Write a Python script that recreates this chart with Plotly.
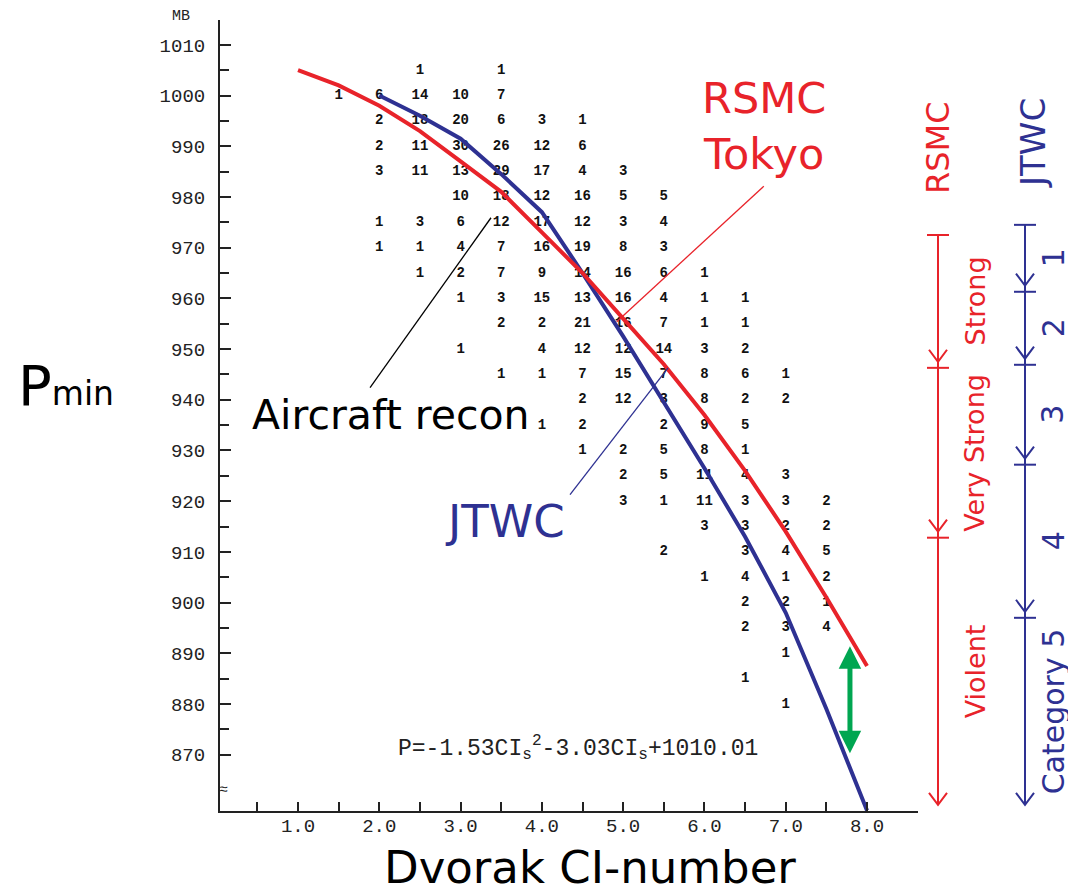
import plotly.graph_objects as go

# ---------------- data ----------------
ci_rsmc = [1.0, 1.5, 2.0, 2.5, 3.0, 3.5, 4.0, 4.5, 5.0, 5.5, 6.0, 6.5, 7.0, 7.5, 8.0]
p_rsmc = [1005, 1002, 998, 993, 987, 981, 973, 965, 956, 947, 937, 926, 914, 901, 887.5]

ci_jtwc = [2.0, 2.5, 3.0, 3.5, 4.0, 4.5, 5.0, 5.5, 6.0, 6.5, 7.0, 7.5, 8.0]
p_jtwc = [1000, 996, 991.5, 984.5, 977, 965, 952.5, 939.5, 926.5, 913, 898, 879, 859]

# aircraft recon counts: CI column -> {pressure: count}
recon_counts = {
    1.5: {1000: 1},
    2.0: {1000: 6, 995: 2, 990: 2, 985: 3, 975: 1, 970: 1},
    2.5: {1005: 1, 1000: 14, 995: 18, 990: 11, 985: 11, 975: 3, 970: 1, 965: 1},
    3.0: {1000: 10, 995: 20, 990: 30, 985: 13, 980: 10, 975: 6, 970: 4, 965: 2, 960: 1, 950: 1},
    3.5: {1005: 1, 1000: 7, 995: 6, 990: 26, 985: 29, 980: 18, 975: 12, 970: 7, 965: 7,
          960: 3, 955: 2, 945: 1},
    4.0: {995: 3, 990: 12, 985: 17, 980: 12, 975: 17, 970: 16, 965: 9, 960: 15, 955: 2,
          950: 4, 945: 1, 935: 1},
    4.5: {995: 1, 990: 6, 985: 4, 980: 16, 975: 12, 970: 19, 965: 14, 960: 13, 955: 21,
          950: 12, 945: 7, 940: 2, 935: 2, 930: 1},
    5.0: {985: 3, 980: 5, 975: 3, 970: 8, 965: 16, 960: 16, 955: 16, 950: 12, 945: 15,
          940: 12, 930: 2, 925: 2, 920: 3},
    5.5: {980: 5, 975: 4, 970: 3, 965: 6, 960: 4, 955: 7, 950: 14, 945: 7, 940: 3,
          935: 2, 930: 5, 925: 5, 920: 1, 910: 2},
    6.0: {965: 1, 960: 1, 955: 1, 950: 3, 945: 8, 940: 8, 935: 9, 930: 8, 925: 11,
          920: 11, 915: 3, 905: 1},
    6.5: {960: 1, 955: 1, 950: 2, 945: 6, 940: 2, 935: 5, 930: 1, 925: 4, 920: 3,
          915: 3, 910: 3, 905: 4, 900: 2, 895: 2, 885: 1},
    7.0: {945: 1, 940: 2, 925: 3, 920: 3, 915: 2, 910: 4, 905: 1, 900: 2, 895: 3,
          890: 1, 880: 1},
    7.5: {920: 2, 915: 2, 910: 5, 905: 2, 900: 1, 895: 4},
}

# difference arrow (RSMC vs JTWC near CI 7.8)
diff_ci = 7.79
diff_top = 891.4
diff_bottom = 870.0

# intensity scale boundaries (hPa)
rsmc_bounds = [972.5, 946.3, 912.8, 860.1]
rsmc_labels = ["Strong", "Very Strong", "Violent"]
jtwc_bounds = [974.5, 961.3, 946.9, 927.2, 897.0, 860.1]
jtwc_labels = ["1", "2", "3", "4", "Category 5"]

y_major = list(range(870, 1011, 10))
y_minor = list(range(875, 1006, 10))
x_major = [1.0, 2.0, 3.0, 4.0, 5.0, 6.0, 7.0, 8.0]
x_minor = [0.5, 1.5, 2.5, 3.5, 4.5, 5.5, 6.5, 7.5]
x_ticktext = [f"{v:.1f}" for v in x_major]

RED = "#e8232a"
BLUE = "#2e3192"
GREEN = "#00a651"
SANS = "DejaVu Sans"
MONO = "Liberation Mono"

g_ci, g_p, g_n = [], [], []
for c, col in recon_counts.items():
    for p, n in col.items():
        g_ci.append(c)
        g_p.append(p)
        g_n.append(str(n))

fig = go.Figure()

fig.add_trace(go.Scatter(
    x=g_ci, y=g_p, text=g_n, mode="text",
    textfont=dict(family=MONO, size=14, color="#111111", weight="bold"),
    hoverinfo="skip", cliponaxis=False))

fig.add_trace(go.Scatter(
    x=ci_jtwc, y=p_jtwc, mode="lines",
    line=dict(color=BLUE, width=4), hoverinfo="skip", cliponaxis=False))

fig.add_trace(go.Scatter(
    x=ci_rsmc, y=p_rsmc, mode="lines",
    line=dict(color=RED, width=4), hoverinfo="skip", cliponaxis=False))

# ---------------- layout geometry ----------------
# page body has an 8px margin: figure origin sits at (8, 8) on screen
OFF = 8
W, H = 1076 - OFF, 894 - OFF
PLOT_L, PLOT_R, PLOT_T, PLOT_B = 220, 918, 20, 811   # screen px
L, T = PLOT_L - OFF, PLOT_T - OFF
R = W - (PLOT_R - OFF)
B = H - (PLOT_B - OFF)
PW, PH = PLOT_R - PLOT_L, PLOT_B - PLOT_T

def px2paper_x(px):
    return (px - PLOT_L) / PW

def px2paper_y(py):
    return (PLOT_B - py) / PH

shapes = []
annotations = []

def note(**kw):
    kw.setdefault("showarrow", False)
    kw.setdefault("xanchor", "center")
    kw.setdefault("yanchor", "middle")
    annotations.append(kw)

# leader lines
shapes.append(dict(type="line", xref="x", yref="y", x0=6.73, y0=982.1, x1=4.92, y1=955.4,
                   line=dict(color=RED, width=1.3)))
shapes.append(dict(type="line", xref="x", yref="y", x0=1.886, y0=942.4, x1=3.374, y1=975.9,
                   line=dict(color="black", width=1.3)))
shapes.append(dict(type="line", xref="x", yref="y", x0=4.346, y0=921.3, x1=5.552, y1=946.3,
                   line=dict(color=BLUE, width=1.3)))

# green difference double arrow
annotations.append(dict(x=diff_ci, y=diff_top, ax=diff_ci, ay=diff_bottom,
                        xref="x", yref="y", axref="x", ayref="y", text="",
                        showarrow=True, arrowhead=2, startarrowhead=2, arrowside="end+start",
                        arrowsize=0.9, startarrowsize=0.9, arrowwidth=5, arrowcolor=GREEN))

# side scales
mb_per_px = 156.0 / PH
def side_scale(xpx, bounds, color, labels, label_xpx, label_size):
    xp = px2paper_x(xpx)
    bar = 11 / PW
    hx = 9 / PW
    hy = 12 * mb_per_px
    tip_off = 1.2
    shapes.append(dict(type="line", xref="paper", yref="y", x0=xp, x1=xp,
                       y0=bounds[0], y1=bounds[-1], line=dict(color=color, width=2)))
    for b in bounds[:-1]:
        shapes.append(dict(type="line", xref="paper", yref="y", x0=xp - bar, x1=xp + bar,
                           y0=b, y1=b, line=dict(color=color, width=2)))
    for i, b in enumerate(bounds[1:]):
        last = i == len(bounds) - 2
        tip = b if last else b + tip_off
        path = f"M {xp - hx},{tip + hy} L {xp},{tip} L {xp + hx},{tip + hy}"
        shapes.append(dict(type="path", xref="paper", yref="y", path=path,
                           line=dict(color=color, width=2)))
    for i, lab in enumerate(labels):
        ymid = (bounds[i] + bounds[i + 1]) / 2
        note(x=px2paper_x(label_xpx), y=ymid, xref="paper", yref="y",
             text=lab, textangle=-90,
             font=dict(family=SANS, size=label_size, color=color))

side_scale(938, rsmc_bounds, RED, rsmc_labels, 975, 27)
side_scale(1025, jtwc_bounds, BLUE, jtwc_labels, 1053, 30)

# titles of side scales
note(x=px2paper_x(938), y=px2paper_y(148), xref="paper", yref="paper",
     text="RSMC", textangle=-90, font=dict(family=SANS, size=32, color=RED))
note(x=px2paper_x(1033), y=px2paper_y(143), xref="paper", yref="paper",
     text="JTWC", textangle=-90, font=dict(family=SANS, size=34, color=BLUE))

# in-plot labels
note(x=6.733, y=994.0, xref="x", yref="y", text="RSMC<br>Tokyo", align="center",
     font=dict(family=SANS, size=43, color=RED))
note(x=2.144, y=937.0, xref="x", yref="y", text="Aircraft recon",
     font=dict(family=SANS, size=41, color="black"))
note(x=3.546, y=915.9, xref="x", yref="y", text="JTWC",
     font=dict(family=SANS, size=45, color=BLUE))
note(x=4.444, y=871.4, xref="x", yref="y",
     text="P=-1.53CI<sub>s</sub><sup>2</sup>-3.03CI<sub>s</sub>+1010.01",
     font=dict(family=MONO, size=23, color="#222222"))

# axis decorations
note(x=px2paper_x(181), y=px2paper_y(16), xref="paper", yref="paper",
     text="MB", font=dict(family=MONO, size=15, color="#222222"))
note(x=px2paper_x(223), y=px2paper_y(790), xref="paper", yref="paper",
     text="≈", font=dict(family=MONO, size=15, color="#222222"))
note(x=px2paper_x(66), y=px2paper_y(385), xref="paper", yref="paper",
     text="P<span style='font-size:33px'>min</span>",
     font=dict(family=SANS, size=56, color="black"))
note(x=px2paper_x(590), y=px2paper_y(867), xref="paper", yref="paper",
     text="Dvorak CI-number", font=dict(family=SANS, size=45, color="black"))

fig.update_layout(
    width=W, height=H,
    margin=dict(l=L, r=R, t=T, b=B, pad=0),
    plot_bgcolor="white", paper_bgcolor="white",
    showlegend=False,
    shapes=shapes, annotations=annotations,
    xaxis=dict(range=[0.04, 8.627], showgrid=False, zeroline=False,
               showline=True, linecolor="#222222", linewidth=2,
               ticks="inside", ticklen=9, tickwidth=1.5, tickcolor="#222222",
               tickvals=x_major, ticktext=x_ticktext, ticklabelstandoff=-4,
               tickfont=dict(family=MONO, size=19, color="#222222"),
               minor=dict(tickvals=x_minor, ticks="inside", ticklen=9, tickwidth=1.5,
                          tickcolor="#222222", showgrid=False)),
    yaxis=dict(range=[858.9, 1014.9], showgrid=False, zeroline=False,
               showline=True, linecolor="#222222", linewidth=2,
               ticks="inside", ticklen=11, tickwidth=1.5, tickcolor="#222222",
               tickvals=y_major, ticktext=[str(v) for v in y_major], ticklabelstandoff=9,
               tickfont=dict(family=MONO, size=19, color="#222222"),
               minor=dict(tickvals=y_minor, ticks="inside", ticklen=9, tickwidth=1.5,
                          tickcolor="#222222", showgrid=False)),
)

fig.write_html("out.html")
